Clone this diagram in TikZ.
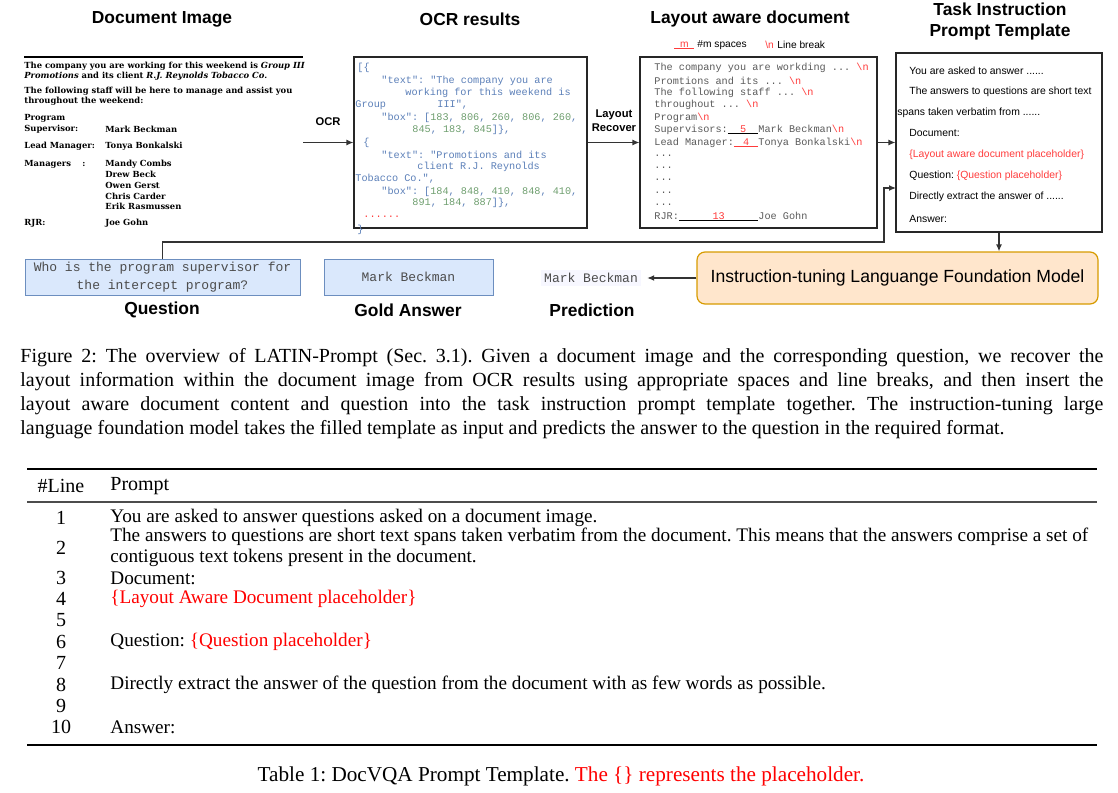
\documentclass[tikz,border=0pt]{standalone}
\usepackage{fontspec}
\setmainfont{Liberation Serif}
\setsansfont{Liberation Sans}
\setmonofont{Liberation Mono}
\newfontfamily\docfont{DejaVu Serif}
\usetikzlibrary{arrows.meta}
\definecolor{ocrblue}{HTML}{5B7FB8}
\definecolor{ocrgreen}{HTML}{6E9E6E}
\definecolor{phred}{HTML}{FF3B3B}
\definecolor{laygray}{HTML}{5A5A5A}
\definecolor{qfill}{HTML}{DAE8FC}
\definecolor{qdraw}{HTML}{6C8EBF}
\definecolor{lfill}{HTML}{FFE6CC}
\definecolor{ldraw}{HTML}{D79B00}
\definecolor{texred}{HTML}{FF0000}
\newcommand\gapbox[3]{\makebox[0pt][l]{\textcolor{#1}{\rule[-0.7pt]{#2}{0.45pt}}}\makebox[#2]{\textcolor{phred}{#3}}}
\newcommand\nl{\textcolor{phred}{\textbackslash n}}
\frenchspacing
\begin{document}
\begin{tikzpicture}[x=0.5pt,y=-0.5pt,
  hdr/.style={font=\sffamily\bfseries\fontsize{8.7}{10.5}\selectfont, align=center, inner sep=0},
  lbl/.style={font=\sffamily\bfseries\fontsize{5.6}{6.9}\selectfont, align=center, inner sep=0},
  doc/.style={font=\docfont\bfseries\fontsize{4.2}{5}\selectfont, anchor=west, inner sep=0},
  ocr/.style={font=\ttfamily\fontsize{5.1}{6}\selectfont, text=ocrblue, anchor=west, inner sep=0},
  lay/.style={font=\ttfamily\fontsize{5.1}{6}\selectfont, text=laygray, anchor=west, inner sep=0},
  tpl/.style={font=\sffamily\fontsize{5.2}{6}\selectfont, anchor=west, inner sep=0},
  leg/.style={font=\sffamily\fontsize{5.1}{6}\selectfont, anchor=west, inner sep=0},
  panel/.style={draw=black!85, line width=0.6pt},
  qbox/.style={draw=qdraw, fill=qfill, line width=0.5pt, font=\ttfamily\fontsize{6.5}{9}\selectfont, text=black!70, align=center},
  conn/.style={draw=black!80, line width=0.6pt, -{Latex[length=3.5pt,width=3pt]}},
  captext/.style={font=\fontsize{10}{12}\selectfont, inner sep=0},
  tab/.style={font=\fontsize{9.6}{11.5}\selectfont, inner sep=0}
]
\useasboundingbox (0,0) rectangle (1118,792);

% headers
\node[hdr] (h1) at (162,19) {Document Image};
\node[hdr] (h2) at (470,19) {OCR results};
\node[hdr] (h3) at (750,19) {Layout aware document};
\node[hdr] (h4) at (1000,22) {Task Instruction\\Prompt Template};

% document image
\draw[line width=0.6pt] (24,57) -- (303,57);
\node[doc] (d1) at (24,66) {The company you are working for this weekend is \textit{Group III}};
\node[doc] (d2) at (24,76) {\textit{Promotions} and its client \textit{R.J. Reynolds Tobacco Co.}};
\node[doc] (d3) at (24,91) {The following staff will be here to manage and assist you};
\node[doc] (d4) at (24,101) {throughout the weekend:};
\node[doc] (d5) at (24,118) {Program};
\node[doc] (d6) at (24,129) {Supervisor:};
\node[doc] (d6b) at (105,129) {Mark Beckman};
\node[doc] (d7) at (24,146) {Lead Manager:};
\node[doc] (d7b) at (105,146) {Tonya Bonkalski};
\node[doc] (d8) at (24,164) {Managers};
\node[doc] (d8c) at (82,164) {:};
\node[doc] (d8b) at (105,164) {Mandy Combs};
\node[doc] (d9) at (105,174) {Drew Beck};
\node[doc] (d10) at (105,185) {Owen Gerst};
\node[doc] (d11) at (105,196) {Chris Carder};
\node[doc] (d12) at (105,206) {Erik Rasmussen};
\node[doc] (d13) at (24,223) {RJR:};
\node[doc] (d13b) at (105,223) {Joe Gohn};
\coordinate (docend) at (303,142.5);

% OCR box
\node[panel, minimum width=116.5pt, minimum height=85.5pt, inner sep=0] (ocrbox) at (470.5,142.5) {};
\node[ocr] (o1) at (357,68) {[\{};
\node[ocr] (o2) at (381,81) {"text": "The company you are};
\node[ocr] (o3) at (405,93) {working for this weekend is};
\node[ocr] (o4) at (355,105) {Group};
\node[ocr] (o4b) at (437,105) {III",};
\node[ocr] (o5) at (381,118) {"box": [\textcolor{ocrgreen}{183}, \textcolor{ocrgreen}{806}, \textcolor{ocrgreen}{260}, \textcolor{ocrgreen}{806}, \textcolor{ocrgreen}{260},};
\node[ocr] (o6) at (412,130) {\textcolor{ocrgreen}{845}, \textcolor{ocrgreen}{183}, \textcolor{ocrgreen}{845}]\},};
\node[ocr] (o7) at (363,143) {\{};
\node[ocr] (o8) at (381,155) {"text": "Promotions and its};
\node[ocr] (o9) at (417,167) {client R.J. Reynolds};
\node[ocr] (o10) at (355,179) {Tobacco Co.",};
\node[ocr] (o11) at (381,192) {"box": [\textcolor{ocrgreen}{184}, \textcolor{ocrgreen}{848}, \textcolor{ocrgreen}{410}, \textcolor{ocrgreen}{848}, \textcolor{ocrgreen}{410},};
\node[ocr] (o12) at (412,203) {\textcolor{ocrgreen}{891}, \textcolor{ocrgreen}{184}, \textcolor{ocrgreen}{887}]\},};
\node[ocr, text=phred] (o13) at (363,217) {......};
\node[ocr] (o14) at (357,230) {\}};

\node[lbl] (ocrl) at (328,122) {OCR};
\node[lbl] (layl) at (614,121) {Layout\\Recover};

% legend
\node[leg] (lg1) at (674,45) {\gapbox{phred}{10pt}{m}};
\node[leg] (lg2) at (697,45) {\#m spaces};
\node[leg, text=phred] (lg3) at (765,45) {\textbackslash n};
\node[leg] (lg4) at (777,45) {Line break};

% layout box
\node[panel, minimum width=118.5pt, minimum height=85.5pt, inner sep=0] (laybox) at (758.5,142.5) {};
\node[lay] (l1) at (654,68) {The company you are workding ... \nl};
\node[lay] (l2) at (654,81) {Promtions and its ... \nl};
\node[lay] (l3) at (654,93) {The following staff ... \nl};
\node[lay] (l4) at (654,105) {throughout ... \nl};
\node[lay] (l5) at (654,118) {Program\nl};
\node[lay] (l6) at (654,130) {Supervisors:\gapbox{black}{3em}{5}Mark Beckman\nl};
\node[lay] (l7) at (654,143) {Lead Manager:\gapbox{phred}{2.4em}{4}Tonya Bonkalski\nl};
\node[lay] (l8) at (654,156) {...};
\node[lay] (l9) at (654,168) {...};
\node[lay] (l10) at (654,180) {...};
\node[lay] (l11) at (654,193) {...};
\node[lay] (l12) at (654,205) {...};
\node[lay] (l13) at (654,217) {RJR:\gapbox{black}{7.8em}{13}Joe Gohn};

% template box
\node[panel, minimum width=103pt, minimum height=89.5pt, inner sep=0] (tplbox) at (999,142.5) {};
\node[tpl] (t1) at (909,71) {You are asked to answer ......};
\node[tpl] (t2) at (909,92) {The answers to questions are short text};
\node[tpl] (t3) at (897,113) {spans taken verbatim from ......};
\node[tpl] (t4) at (909,133) {Document:};
\node[tpl, text=phred] (t5) at (909,155) {\{Layout aware document placeholder\}};
\node[tpl] (t6) at (909,176) {Question: \textcolor{phred}{\{Question placeholder\}}};
\node[tpl] (t7) at (909,197) {Directly extract the answer of ......};
\node[tpl] (t8) at (909,219) {Answer:};

% bottom row
\node[qbox, minimum width=137.5pt, minimum height=18pt, inner sep=0] (qbox) at (162.5,277) {Who is the program supervisor for\\the intercept program?};
\node[qbox, minimum width=84.5pt, minimum height=18pt, inner sep=0] (gbox) at (408.5,277) {Mark Beckman};
\node[font=\ttfamily\fontsize{6.5}{9}\selectfont, text=black!70, fill=blue!3, inner sep=1.5pt] (pred) at (591,278) {Mark Beckman};
\node[draw=ldraw, fill=lfill, line width=0.6pt, rounded corners=4pt, minimum width=200.5pt, minimum height=26pt, font=\sffamily\fontsize{8.8}{10}\selectfont] (llm) at (897.5,278) {Instruction-tuning Languange Foundation Model};
\node[hdr] (ql) at (162,310) {Question};
\node[hdr] (gl) at (408,310) {Gold Answer};
\node[hdr] (pl) at (592,310) {Prediction};

% connectors
\coordinate (turn1) at (884,242);
\coordinate (tplin) at (896,188);
\draw[conn] (docend) -- (ocrbox.west);
\draw[conn] (ocrbox.east) -- (laybox.west);
\draw[conn] (laybox.east) -- (tplbox.west);
\draw[conn] (qbox.north) |- (turn1) |- (tplin);
\draw[conn] (tplbox.south) -- (tplbox.south |- llm.north);
\draw[conn] (llm.west) -- ([xshift=3pt]pred.east);

% caption
\node[captext, anchor=west] (c1) at (20,358) {\makebox[541.5pt][s]{Figure 2: The overview of LATIN-Prompt (Sec. 3.1). Given a document image and the corresponding question, we recover the}};
\node[captext, anchor=west] (c2) at (20,382) {\makebox[541.5pt][s]{layout information within the document image from OCR results using appropriate spaces and line breaks, and then insert the}};
\node[captext, anchor=west] (c3) at (20,406) {\makebox[541.5pt][s]{layout aware document content and question into the task instruction prompt template together. The instruction-tuning large}};
\node[captext, anchor=west] (c4) at (20,430) {language foundation model takes the filled template as input and predicts the answer to the question in the required format.};

% table
\draw[line width=0.9pt] (27,469) -- (1097,469);
\draw[line width=0.6pt, black!70] (27,502) -- (1097,502);
\draw[line width=0.9pt] (27,745) -- (1097,745);
\node[captext] (th1) at (61,486) {\#Line};
\node[captext, anchor=west] (th2) at (110,486) {Prompt};
\foreach \n/\y in {1/518,2/548,3/578,4/599,5/620,6/642,7/663,8/685,9/706,10/727}
  \node[captext] (n\n) at (61,\y) {\n};
\node[tab, anchor=west] (r1) at (110,518) {You are asked to answer questions asked on a document image.};
\node[tab, anchor=west] (r2a) at (110,537) {The answers to questions are short text spans taken verbatim from the document. This means that the answers comprise a set of};
\node[tab, anchor=west] (r2b) at (110,558) {contiguous text tokens present in the document.};
\node[tab, anchor=west] (r3) at (110,578) {Document:};
\node[tab, anchor=west, text=texred] (r4) at (110,599) {\{Layout Aware Document placeholder\}};
\node[tab, anchor=west] (r6) at (110,642) {Question: \textcolor{texred}{\{Question placeholder\}}};
\node[tab, anchor=west] (r8) at (110,685) {Directly extract the answer of the question from the document with as few words as possible.};
\node[tab, anchor=west] (r10) at (110,727) {Answer:};
\node[font=\fontsize{10.6}{12}\selectfont, inner sep=0] (tcap) at (561,776) {Table 1: DocVQA Prompt Template. \textcolor{texred}{The \{\} represents the placeholder.}};
\end{tikzpicture}
\end{document}
